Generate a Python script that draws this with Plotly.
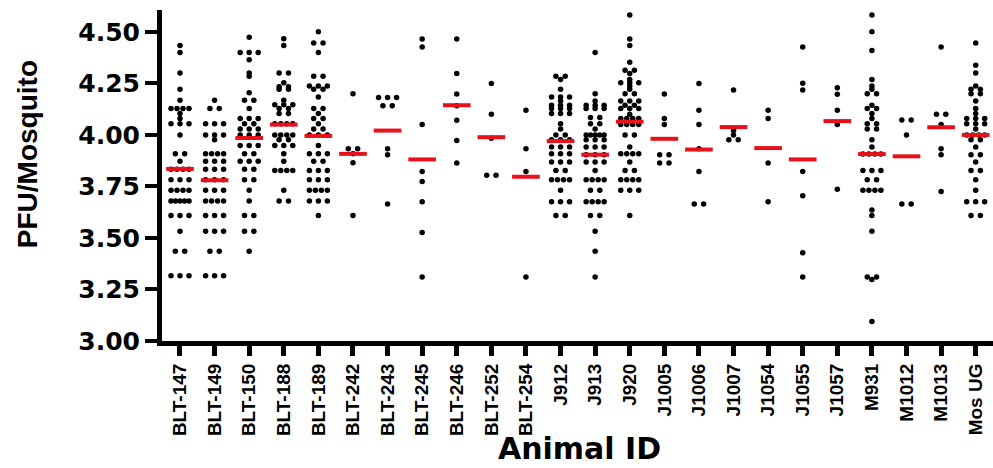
import plotly.graph_objects as go

categories = ["BLT-147", "BLT-149", "BLT-150", "BLT-188", "BLT-189", "BLT-242",
              "BLT-243", "BLT-245", "BLT-246", "BLT-252", "BLT-254", "J912",
              "J913", "J920", "J1005", "J1006", "J1007", "J1054", "J1055",
              "J1057", "M931", "M1012", "M1013", "Mos UG"]

blt_147 = [4.434, 4.40, 4.30, 4.221, 4.168] + [4.128]*4 + [4.104, 4.08] + [4.054]*3 + [4.0] + \
          [3.909]*2 + [3.872] + [3.833]*4 + [3.782]*3 + [3.732]*4 + [3.679]*5 + [3.609]*3 + \
          [3.532] + [3.436]*2 + [3.316]*3
blt_149 = [4.168] + [4.128]*2 + [4.054]*3 + [4.0]*3 + [3.976] + [3.909]*4 + [3.872]*3 + \
          [3.833]*3 + [3.782]*3 + [3.732]*3 + [3.679]*4 + [3.609]*3 + [3.532]*3 + [3.436]*2 + [3.316]*3
blt_150 = [4.474] + [4.40]*3 + [4.365, 4.30, 4.285, 4.205] + [4.168]*2 + [4.128] + [4.08]*3 + \
          [4.054]*2 + [4.029]*3 + [4.0]*3 + [3.949]*3 + [3.909]*2 + [3.872]*3 + [3.833]*2 + \
          [3.782]*2 + [3.732, 3.679] + [3.609]*2 + [3.532]*2 + [3.436]
blt_188 = [4.466, 4.434] + [4.30]*2 + [4.253] + [4.234]*2 + [4.221]*2 + [4.168] + [4.146]*3 + \
          [4.128]*2 + [4.104]*2 + [4.054]*4 + [4.0]*4 + [3.976]*2 + [3.949]*3 + [3.909, 3.872] + \
          [3.827]*4 + [3.732] + [3.679]*2
blt_189 = [4.50] + [4.446]*2 + [4.40] + [4.285]*2 + [4.237]*3 + [4.221]*2 + [4.184] + [4.128]*2 + \
          [4.104] + [4.08]*2 + [4.054] + [4.029]*2 + [4.0]*3 + [3.949] + [3.909]*3 + [3.872]*2 + \
          [3.827]*3 + [3.782]*3 + [3.732]*4 + [3.679]*3 + [3.609]
blt_242 = [4.20] + [3.933]*2 + [3.909, 3.865, 3.609]
blt_243 = [4.181]*3 + [4.141]*2 + [3.933, 3.904, 3.665]
blt_245 = [4.465, 4.426, 4.051, 3.823, 3.774, 3.676, 3.527, 3.311]
blt_246 = [4.465, 4.298, 4.199, 4.141, 4.071, 3.973, 3.864]
blt_252 = [4.249, 4.10, 3.984] + [3.804]*2
blt_254 = [4.12, 3.933, 3.823, 3.311]
j912 = [4.285]*2 + [4.269, 4.221] + [4.184]*3 + [4.165] + [4.144]*3 + [4.128]*3 + [4.104]*3 + \
       [4.054, 4.029] + [4.0]*2 + [3.976]*3 + [3.941]*3 + [3.909]*3 + [3.869]*3 + [3.827]*2 + \
       [3.782]*4 + [3.732] + [3.676]*3 + [3.609]*2
j913 = [4.40, 4.20, 4.165] + [4.144]*3 + [4.128]*3 + [4.085]*2 + [4.054]*2 + [4.029] + [4.0]*5 + \
       [3.976]*3 + [3.941]*3 + [3.904]*3 + [3.869]*3 + [3.827] + [3.782]*4 + [3.732]*2 + \
       [3.676]*4 + [3.609]*2 + [3.532, 3.436, 3.311]
j920 = [4.582, 4.465, 4.434, 4.352] + [4.314]*2 + [4.298, 4.269] + [4.253]*3 + [4.237, 4.221] + \
       [4.20]*2 + [4.165]*3 + [4.144]*2 + [4.128]*3 + [4.10] + [4.08]*4 + [4.051]*4 + [4.0]*2 + \
       [3.941] + [3.909]*4 + [3.869] + [3.827]*2 + [3.782]*4 + [3.732]*3 + [3.609]
j1005 = [4.199, 4.08, 4.051] + [3.904]*2 + [3.864]*2
j1006 = [4.249, 4.12, 4.051, 3.933, 3.823] + [3.665]*2
j1007 = [4.218, 4.021, 4.0] + [3.976]*2
j1054 = [4.12, 4.08, 3.864, 3.676]
j1055 = [4.426, 4.25, 4.218, 3.823, 3.705, 3.428, 3.311]
j1057 = [4.229, 4.197, 4.12, 4.051, 3.736]
m931 = [4.582, 4.50, 4.409, 4.269, 4.237, 4.221] + [4.20]*2 + [4.144] + [4.128]*2 + [4.104, 4.08] + \
       [4.054]*2 + [4.029]*2 + [3.976, 3.941] + [3.907]*4 + [3.827]*3 + [3.782]*2 + [3.732]*4 + \
       [3.636, 3.609, 3.532] + [3.311]*2 + [3.298, 3.095]
m1012 = [4.072]*2 + [4.0] + [3.665]*2
m1013 = [4.426] + [4.10]*2 + [4.051, 3.933, 3.904, 3.725]
mos_ug = [4.446, 4.338, 4.30, 4.237] + [4.221]*2 + [4.20]*2 + [4.165, 4.128, 4.104] + [4.08]*3 + \
         [4.054]*3 + [4.029] + [4.0]*4 + [3.976]*2 + [3.941] + [3.904]*2 + [3.869] + [3.827]*2 + \
         [3.782, 3.732] + [3.676]*3 + [3.609]*2

series = [blt_147, blt_149, blt_150, blt_188, blt_189, blt_242, blt_243, blt_245, blt_246,
          blt_252, blt_254, j912, j913, j920, j1005, j1006, j1007, j1054, j1055, j1057,
          m931, m1012, m1013, mos_ug]

medians = [3.835, 3.780, 3.985, 4.050, 3.995, 3.908, 4.021, 3.881, 4.144, 3.989, 3.797,
           3.970, 3.904, 4.064, 3.981, 3.929, 4.038, 3.936, 3.881, 4.067, 3.907, 3.896,
           4.037, 4.000]

yticks = [3.00, 3.25, 3.50, 3.75, 4.00, 4.25, 4.50]

# scatter positions (simple column layout of tied values)
xs, ys = [], []
for i, vals in enumerate(series):
    counts = {}
    for v in vals:
        counts[v] = counts.get(v, 0) + 1
    for v, n in counts.items():
        if n == 1:
            offs = [0.0]
        else:
            step = min(0.27, 0.52 / (n - 1))
            offs = [(k - (n - 1) / 2) * step for k in range(n)]
        for o in offs:
            xs.append(i + o)
            ys.append(v)

mx, my = [], []
for i, m in enumerate(medians):
    mx += [i - 0.4, i + 0.4, None]
    my += [m, m, None]

fig = go.Figure()
fig.add_trace(go.Scatter(x=xs, y=ys, mode="markers",
                         marker=dict(color="black", size=5.5, line=dict(width=0)),
                         showlegend=False, hoverinfo="skip"))
fig.add_trace(go.Scatter(x=mx, y=my, mode="lines",
                         line=dict(color="#e8101a", width=4),
                         showlegend=False, hoverinfo="skip"))

fig.update_layout(
    width=993, height=468, autosize=False,
    margin=dict(l=162, r=0, t=10, b=127),
    plot_bgcolor="white", paper_bgcolor="white",
    xaxis=dict(range=[-0.52, 23.5], tickmode="array", tickvals=list(range(len(categories))),
               ticktext=categories, tickangle=-90, ticks="outside", ticklen=10, tickwidth=5,
               tickcolor="black", showline=True, linewidth=5, linecolor="black",
               showgrid=False, zeroline=False,
               tickfont=dict(family="Liberation Sans", size=19, color="black", weight="bold")),
    yaxis=dict(range=[3.0, 4.606], tickmode="array", tickvals=yticks,
               ticktext=["%.2f" % v for v in yticks], ticks="outside", ticklen=12, tickwidth=4,
               tickcolor="black", showline=True, linewidth=5, linecolor="black",
               showgrid=False, zeroline=False,
               tickfont=dict(family="DejaVu Sans", size=25, color="black", weight="bold")),
    annotations=[
        dict(text="PFU/Mosquito", xref="paper", yref="paper", x=-0.161, y=0.565,
             xanchor="center", yanchor="middle", textangle=-90, showarrow=False,
             font=dict(family="Liberation Sans", size=28, color="black", weight="bold")),
        dict(text="Animal ID", xref="paper", yref="paper", x=0.502, y=-0.384,
             xanchor="center", yanchor="bottom", showarrow=False,
             font=dict(family="DejaVu Sans", size=30, color="black", weight="bold")),
    ],
)

fig.write_html("out.html")
